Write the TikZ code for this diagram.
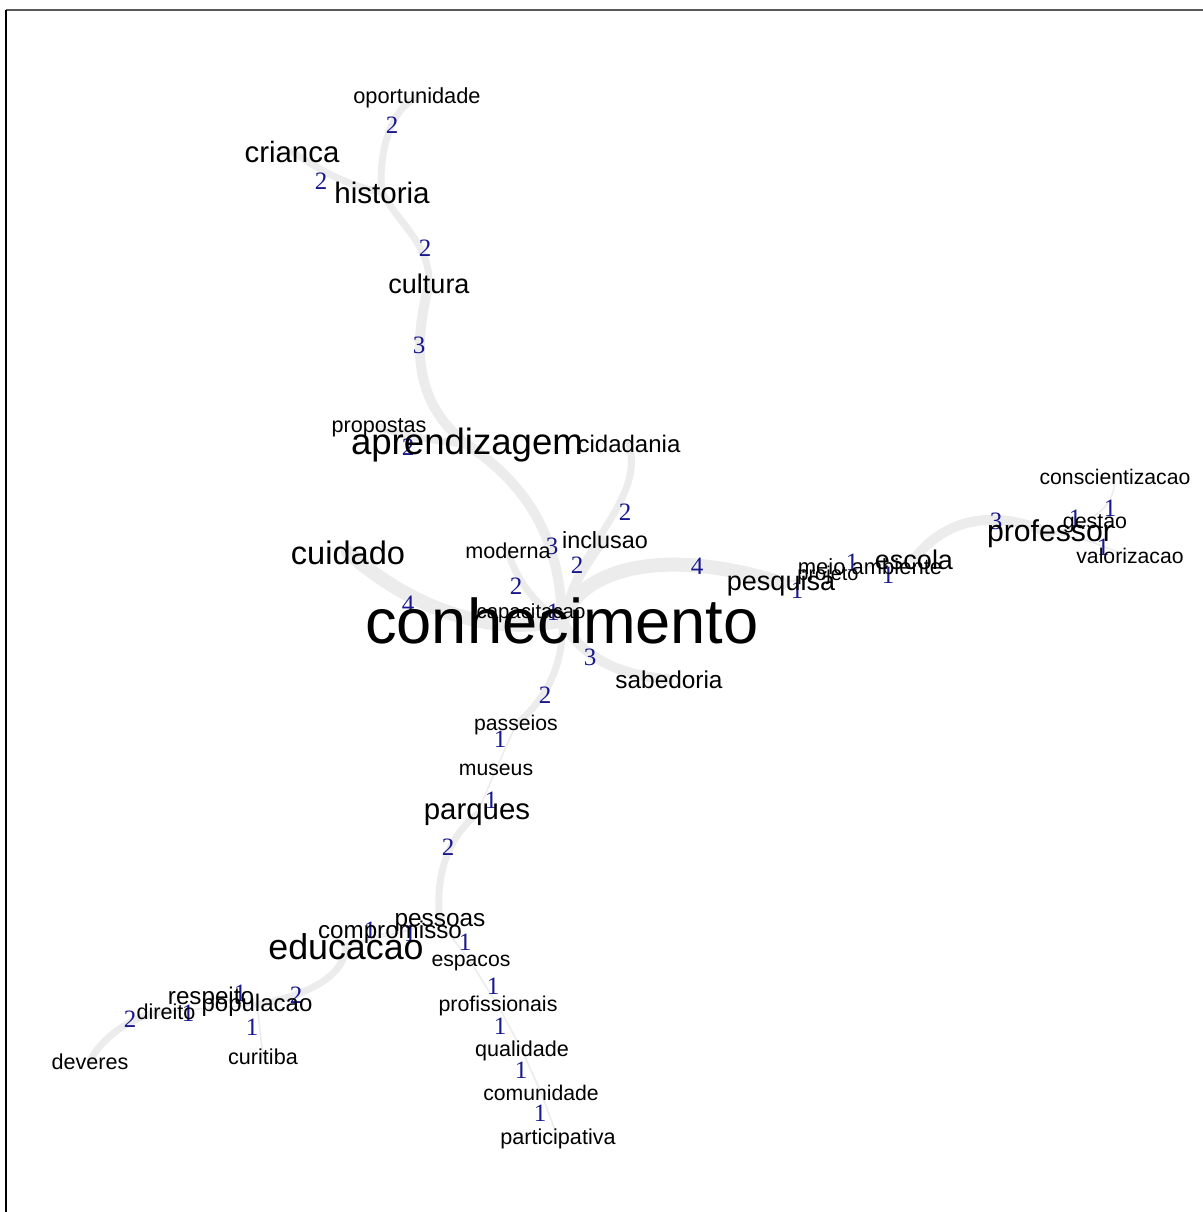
\documentclass[tikz,border=0pt]{standalone}
\usepackage{fontspec}
\setmainfont{Liberation Sans}
\newfontfamily\numfont{Liberation Serif}
\pgfdeclarelayer{bg}
\pgfsetlayers{bg,main}
\definecolor{edgegray}{RGB}{236,236,236}
\definecolor{numblue}{RGB}{24,24,140}
\begin{document}
\begin{tikzpicture}[x=0.5pt,y=-0.5pt,
  w/.style={anchor=base,inner sep=0pt,font=\fontsize{#1pt}{#1pt}\selectfont},
  num/.style={inner sep=0pt,text=numblue,font=\numfont\fontsize{12.5pt}{12.5pt}\selectfont},
  ea/.style={draw=edgegray,line width=0.8pt,line cap=round},
  eb/.style={draw=edgegray,line width=3.5pt,line cap=round},
  ec/.style={draw=edgegray,line width=5pt,line cap=round},
  ed/.style={draw=edgegray,line width=7pt,line cap=round}]
\useasboundingbox (0,0) rectangle (1203,1212);
\draw[gray!70!black,line width=1pt] (6,10) -- (1203,10);
\draw[black,line width=0.6pt] (6,10) -- (6,1212);

% edge labels
\node[num] (n1) at (392,125) {2};
\node[num] (n2) at (321,181) {2};
\node[num] (n3) at (425,248) {2};
\node[num] (n4) at (419,345) {3};
\node[num] (n5) at (408,447) {2};
\node[num] (n6) at (625,512) {2};
\node[num] (n7) at (552,546) {3};
\node[num] (n8) at (577,565) {2};
\node[num] (n9) at (516,586) {2};
\node[num] (n10) at (408,604) {4};
\node[num] (n11) at (553,612) {1};
\node[num] (n12) at (697,566) {4};
\node[num] (n13) at (590,657) {3};
\node[num] (n14) at (545,695) {2};
\node[num] (n15) at (500,739) {1};
\node[num] (n16) at (491,800) {1};
\node[num] (n17) at (448,847) {2};
\node[num] (n18) at (797,590) {1};
\node[num] (n19) at (852,562) {1};
\node[num] (n20) at (888,575) {1};
\node[num] (n21) at (996,521) {3};
\node[num] (n22) at (1075,518) {1};
\node[num] (n23) at (1110,508) {1};
\node[num] (n24) at (1103,547) {1};
\node[num] (n25) at (370,930) {1};
\node[num] (n26) at (410,933) {1};
\node[num] (n27) at (465,942) {1};
\node[num] (n28) at (493,986) {1};
\node[num] (n29) at (500,1026) {1};
\node[num] (n30) at (521,1070) {1};
\node[num] (n31) at (540,1113) {1};
\node[num] (n32) at (296,995) {2};
\node[num] (n33) at (240,993) {1};
\node[num] (n34) at (188,1013) {1};
\node[num] (n35) at (130,1019) {2};
\node[num] (n36) at (252,1027) {1};

% words
\node[w=10.9] (oport) at (417,103) {oportunidade};
\node[w=14.7] (crian) at (292,162) {crianca};
\node[w=14.8] (hist) at (382,203) {historia};
\node[w=13.5] (cult) at (429,293) {cultura};
\node[w=10.8] (prop) at (379,432) {propostas};
\node[w=18.3] (aprend) at (467,454) {aprendizagem};
\node[w=12] (cidad) at (629,452) {cidadania};
\node[w=11.7] (incl) at (605,548) {inclusao};
\node[w=10.8] (moder) at (508,558) {moderna};
\node[w=16.3] (cuid) at (348,564) {cuidado};
\node[w=31.6] (conh) at (562,643) {conhecimento};
\node[w=10.2] (capac) at (531,618) {capacitacao};
\node[w=12.2] (sabed) at (669,688) {sabedoria};
\node[w=13.5] (pesq) at (781,590) {pesquisa};
\node[w=10] (proj) at (828,580) {projeto};
\node[w=11] (meio) at (870,574) {meio ambiente};
\node[w=13.5] (escola) at (914,569) {escola};
\node[w=15.1] (prof) at (1050,541) {professor};
\node[w=10.6] (consc) at (1115,484) {conscientizacao};
\node[w=10.7] (gest) at (1095,528) {gestao};
\node[w=10.6] (valor) at (1130,563) {valorizacao};
\node[w=10.6] (pass) at (516,730) {passeios};
\node[w=10.6] (mus) at (496,775) {museus};
\node[w=14.7] (parq) at (477,819) {parques};
\node[w=12.2] (pess) at (440,926) {pessoas};
\node[w=12.1] (comp) at (390,938) {compromisso};
\node[w=17.9] (educ) at (346,959) {educacao};
\node[w=10.6] (espac) at (471,966) {espacos};
\node[w=10.7] (profis) at (498,1011) {profissionais};
\node[w=10.8] (qual) at (522,1056) {qualidade};
\node[w=10.6] (comun) at (541,1100) {comunidade};
\node[w=10.8] (partic) at (558,1144) {participativa};
\node[w=12.1] (resp) at (211,1004) {respeito};
\node[w=12] (popul) at (257,1011) {populacao};
\node[w=10.8] (dir) at (166,1019) {direito};
\node[w=10.8] (dev) at (90,1069) {deveres};
\node[w=10.8] (curit) at (263,1064) {curitiba};

\begin{pgfonlayer}{bg}
\draw[eb] (oport.center) .. controls (388,110) and (378,160) .. (hist.center);
\draw[eb] (crian.center) .. controls (320,170) and (345,185) .. (hist.center);
\draw[eb] (hist.center) .. controls (400,225) and (430,245) .. (cult.center);
\draw[ec] (cult.center) .. controls (415,340) and (410,400) .. (aprend.center);
\draw[eb] (prop.center) .. controls (400,435) and (430,440) .. (aprend.center);
\draw[ec] (aprend.center) .. controls (520,480) and (560,530) .. (conh.center);
\draw[eb] (cidad.center) .. controls (645,500) and (580,540) .. (conh.center);
\draw[eb] (incl.center) .. controls (590,560) and (570,590) .. (conh.center);
\draw[eb] (moder.center) .. controls (515,580) and (540,610) .. (conh.center);
\draw[ed] (cuid.center) .. controls (390,590) and (470,640) .. (conh.center);
\draw[ea] (capac.center) -- (conh.center);
\draw[ed] (conh.center) .. controls (580,570) and (660,545) .. (pesq.center);
\draw[ea] (pesq.center) -- (proj.center);
\draw[ea] (pesq.center) -- (meio.center);
\draw[ea] (meio.center) -- (escola.center);
\draw[ec] (escola.center) .. controls (940,525) and (985,505) .. (prof.center);
\draw[ea] (prof.center) -- (gest.center);
\draw[ea] (prof.center) .. controls (1105,520) and (1115,500) .. (consc.center);
\draw[ea] (prof.center) .. controls (1100,540) and (1105,550) .. (valor.center);
\draw[ec] (conh.center) .. controls (580,655) and (615,675) .. (sabed.center);
\draw[eb] (conh.center) .. controls (565,670) and (540,705) .. (pass.center);
\draw[ea] (pass.center) -- (mus.center);
\draw[ea] (mus.center) -- (parq.center);
\draw[eb] (parq.center) .. controls (445,840) and (435,880) .. (pess.center);
\draw[ea] (pess.center) -- (educ.center);
\draw[ea] (comp.center) -- (educ.center);
\draw[ea] (pess.center) -- (espac.center);
\draw[ea] (espac.center) -- (profis.center);
\draw[ea] (profis.center) -- (qual.center);
\draw[ea] (qual.center) -- (comun.center);
\draw[ea] (comun.center) -- (partic.center);
\draw[eb] (educ.center) .. controls (345,975) and (310,995) .. (popul.center);
\draw[ea] (popul.center) -- (resp.center);
\draw[ea] (popul.center) -- (dir.center);
\draw[eb] (dir.center) .. controls (130,1015) and (100,1040) .. (dev.center);
\draw[ea] (popul.center) -- (curit.center);
\end{pgfonlayer}
\end{tikzpicture}
\end{document}
